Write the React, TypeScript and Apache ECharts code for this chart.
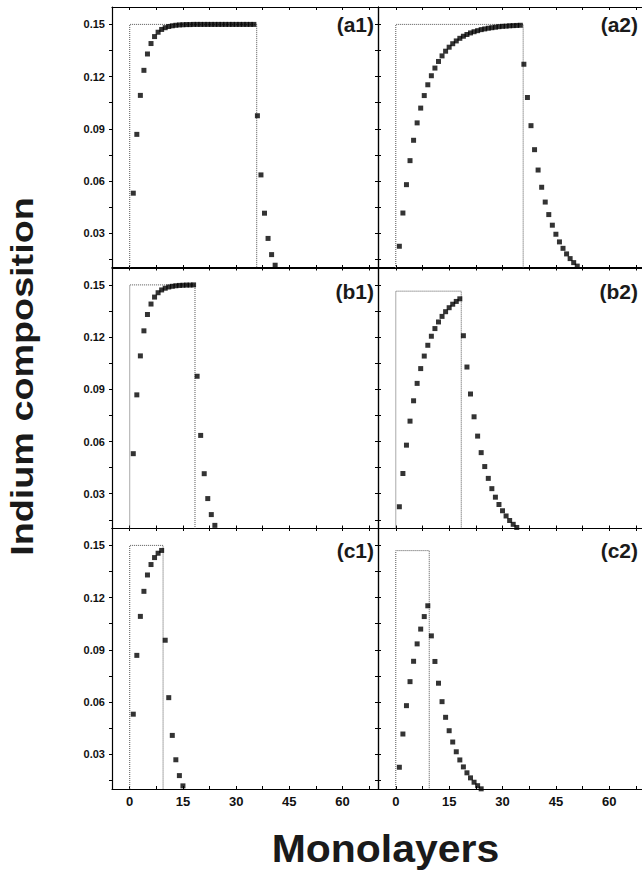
import React, { useEffect, useRef } from "react";
import * as echarts from "echarts";

// Indium composition per monolayer (monolayer n = index + 1)
const a1Values = [
  0.0530, 0.0868, 0.1092, 0.1236, 0.1330, 0.1390, 0.1430, 0.1455, 0.1471, 0.1481,
  0.1488, 0.1492, 0.1495, 0.1497, 0.1498, 0.1499, 0.1499, 0.1500, 0.1500, 0.1500,
  0.1500, 0.1500, 0.1500, 0.1500, 0.1500, 0.1500, 0.1500, 0.1500, 0.1500, 0.1500,
  0.1500, 0.1500, 0.1500, 0.1500, 0.1500,
  0.0975, 0.0635, 0.0415, 0.0270, 0.0177, 0.0116, 0.0075,
];
const a2Values = [
  0.0225, 0.0416, 0.0579, 0.0717, 0.0834, 0.0934, 0.1019, 0.1091, 0.1153, 0.1205,
  0.1249, 0.1287, 0.1319, 0.1346, 0.1369, 0.1389, 0.1405, 0.1420, 0.1432, 0.1442,
  0.1451, 0.1458, 0.1464, 0.1470, 0.1474, 0.1478, 0.1481, 0.1484, 0.1487, 0.1489,
  0.1490, 0.1492, 0.1493, 0.1494, 0.1495,
  0.1271, 0.1080, 0.0918, 0.0780, 0.0663, 0.0564, 0.0479, 0.0407, 0.0346, 0.0294,
  0.0250, 0.0213, 0.0181, 0.0154, 0.0131, 0.0111, 0.0094,
];
const b1Values = [
  0.0530, 0.0868, 0.1092, 0.1236, 0.1330, 0.1390, 0.1430, 0.1455, 0.1471, 0.1481,
  0.1488, 0.1492, 0.1495, 0.1497, 0.1498, 0.1499, 0.1499, 0.1500,
  0.0975, 0.0635, 0.0415, 0.0272, 0.0180, 0.0118, 0.0076,
];
const b2Values = [
  0.0225, 0.0416, 0.0579, 0.0717, 0.0834, 0.0934, 0.1019, 0.1091, 0.1153, 0.1205,
  0.1249, 0.1287, 0.1319, 0.1346, 0.1369, 0.1389, 0.1405, 0.1420,
  0.1208, 0.1028, 0.0873, 0.0742, 0.0631, 0.0536, 0.0456, 0.0388, 0.0329, 0.0280,
  0.0238, 0.0202, 0.0172, 0.0146, 0.0124, 0.0106, 0.0090,
];
const c1Values = [
  0.0530, 0.0868, 0.1092, 0.1236, 0.1330, 0.1390, 0.1430, 0.1455, 0.1471,
  0.0955, 0.0625, 0.0408, 0.0268, 0.0177, 0.0118, 0.0076,
];
const c2Values = [
  0.0225, 0.0416, 0.0579, 0.0717, 0.0834, 0.0934, 0.1019, 0.1091, 0.1153,
  0.0980, 0.0833, 0.0708, 0.0602, 0.0512, 0.0435, 0.0370, 0.0314, 0.0267, 0.0227,
  0.0193, 0.0164, 0.0139, 0.0119, 0.0101, 0.0086,
];

// Nominal (dotted) profiles: growth end (monolayers) and nominal composition
const boxEnds = { a: 35.8, b: 18.4, c: 9.4 };
const boxTops = { a1: 0.15, a2: 0.15, b1: 0.15, b2: 0.1464, c1: 0.15, c2: 0.147 };

const xLabelValues = [0, 15, 30, 45, 60];
const xTickValues = [0, 7.5, 15, 22.5, 30, 37.5, 45, 52.5, 60, 67.5];
const yLabelValues = [0.03, 0.06, 0.09, 0.12, 0.15];
const yTickValues = [0.015, 0.03, 0.045, 0.06, 0.075, 0.09, 0.105, 0.12, 0.135, 0.15];

const FONT = "'Liberation Sans', Arial, Helvetica, sans-serif";

const panels = [
  { id: "a1", values: a1Values, end: boxEnds.a, top: boxTops.a1, row: 0, col: 0 },
  { id: "a2", values: a2Values, end: boxEnds.a, top: boxTops.a2, row: 0, col: 1 },
  { id: "b1", values: b1Values, end: boxEnds.b, top: boxTops.b1, row: 1, col: 0 },
  { id: "b2", values: b2Values, end: boxEnds.b, top: boxTops.b2, row: 1, col: 1 },
  { id: "c1", values: c1Values, end: boxEnds.c, top: boxTops.c1, row: 2, col: 0 },
  { id: "c2", values: c2Values, end: boxEnds.c, top: boxTops.c2, row: 2, col: 1 },
];

const rowTop = [7, 267.5, 528];
const rowH = 261;
const colLeft = [112, 378];
const colW = [266, 264];
const colXMax = [70, 69.2];
const labelY = [24, 291, 550];
const labelRight = [374, 638];

export default function App() {
  const ref = useRef<HTMLDivElement>(null);

  useEffect(() => {
    if (!ref.current) return;
    const chart = echarts.init(ref.current, null, { renderer: "svg" });

    const axisLine = { show: true, onZero: false, lineStyle: { color: "#000", width: 1.2 } };
    const tickStyle = { color: "#000", width: 1 };

    const grids: any[] = [];
    const xAxes: any[] = [];
    const yAxes: any[] = [];
    const series: any[] = [];
    const graphics: any[] = [];

    panels.forEach((p, i) => {
      grids.push({
        left: colLeft[p.col],
        top: rowTop[p.row],
        width: colW[p.col],
        height: rowH,
        show: false,
        containLabel: false,
      });
      xAxes.push({
        type: "value",
        gridIndex: i,
        min: -5,
        max: colXMax[p.col],
        position: "bottom",
        axisLine,
        axisTick: { show: true, inside: true, length: 3, customValues: xTickValues, lineStyle: tickStyle },
        axisLabel: {
          show: p.row === 2,
          customValues: xLabelValues,
          fontSize: 13,
          fontWeight: "bold",
          fontFamily: FONT,
          color: "#111",
          margin: 6,
        },
        splitLine: { show: false },
      });
      xAxes.push({
        type: "value",
        gridIndex: i,
        min: -5,
        max: colXMax[p.col],
        position: "top",
        axisLine,
        axisTick: { show: true, inside: true, length: 3, customValues: xTickValues, lineStyle: tickStyle },
        axisLabel: { show: false },
        splitLine: { show: false },
      });
      yAxes.push({
        type: "value",
        gridIndex: i,
        min: 0.01,
        max: 0.16,
        position: "left",
        axisLine,
        axisTick: { show: true, inside: p.col === 1, length: 3, customValues: yTickValues, lineStyle: tickStyle },
        axisLabel: {
          show: p.col === 0,
          customValues: yLabelValues,
          formatter: (v: number) => v.toFixed(2),
          fontSize: 11,
          fontWeight: "bold",
          fontFamily: FONT,
          color: "#111",
          margin: 7,
        },
        splitLine: { show: false },
      });
      yAxes.push({
        type: "value",
        gridIndex: i,
        min: 0.01,
        max: 0.16,
        position: "right",
        show: p.col === 0,
        axisLine,
        axisTick: { show: true, inside: true, length: 3, customValues: yTickValues, lineStyle: tickStyle },
        axisLabel: { show: false },
        splitLine: { show: false },
      });

      series.push({
        type: "line",
        xAxisIndex: 2 * i,
        yAxisIndex: 2 * i,
        data: [
          [0, 0.01],
          [0, p.top],
          [p.end, p.top],
          [p.end, 0.01],
        ],
        showSymbol: false,
        symbol: "none",
        silent: true,
        lineStyle: { type: "dotted", color: "#555", width: 1 },
        z: 1,
      });
      series.push({
        type: "scatter",
        xAxisIndex: 2 * i,
        yAxisIndex: 2 * i,
        data: p.values.map((v, k) => [k + 1, v]),
        symbol: "rect",
        symbolSize: 5,
        itemStyle: { color: "#000" },
        z: 3,
      });

      graphics.push({
        type: "text",
        x: labelRight[p.col],
        y: labelY[p.row],
        style: {
          text: `(${p.id})`,
          fontSize: 21,
          fontWeight: "bold",
          fontFamily: FONT,
          fill: "#1a1a1a",
          align: "right",
          verticalAlign: "middle",
        },
      });
    });

    graphics.push({
      type: "text",
      x: 21.5,
      y: 376.5,
      rotation: Math.PI / 2,
      scaleX: 1.18,
      style: {
        text: "Indium composition",
        fontSize: 32,
        fontWeight: "bold",
        fontFamily: FONT,
        fill: "#1a1a1a",
        align: "center",
        verticalAlign: "middle",
      },
    });
    graphics.push({
      type: "text",
      x: 385.5,
      y: 848,
      scaleX: 1.05,
      style: {
        text: "Monolayers",
        fontSize: 39,
        fontWeight: "bold",
        fontFamily: FONT,
        fill: "#1a1a1a",
        align: "center",
        verticalAlign: "middle",
      },
    });

    chart.setOption({
      animation: false,
      backgroundColor: "#fff",
      grid: grids,
      xAxis: xAxes,
      yAxis: yAxes,
      series,
      graphic: graphics,
    });

    return () => chart.dispose();
  }, []);

  return (
    <div
      ref={ref}
      style={{ position: "fixed", left: 0, top: 0, width: 642, height: 878 }}
    />
  );
}
